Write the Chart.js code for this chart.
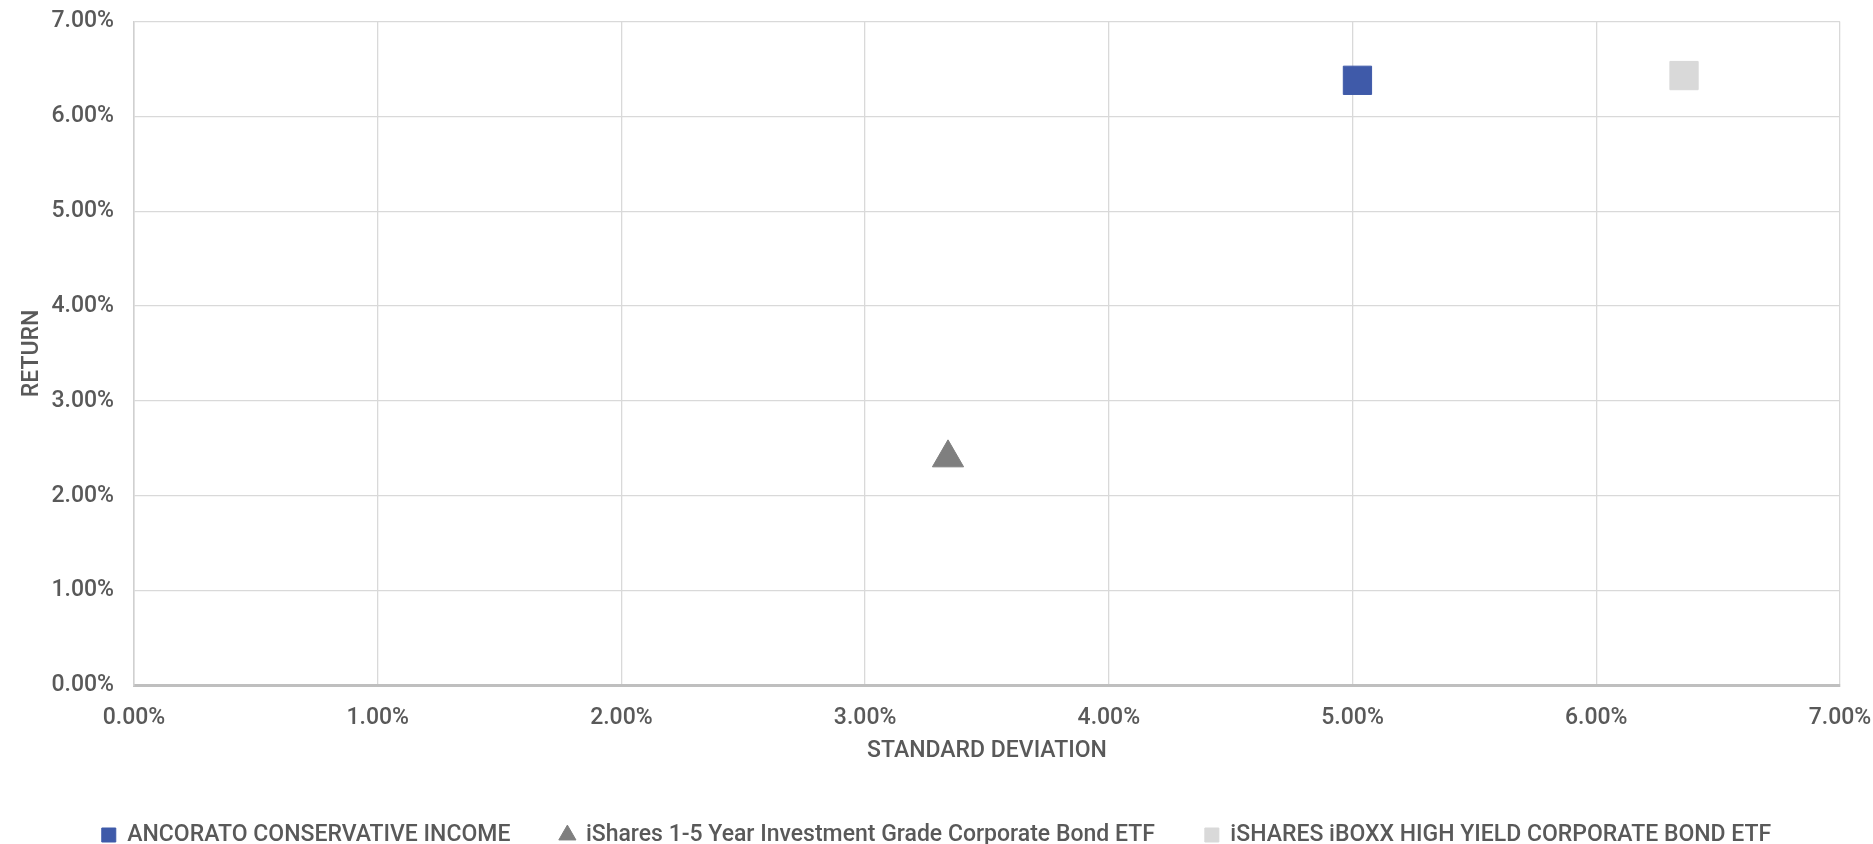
<!DOCTYPE html>
<html>
<head>
<meta charset="utf-8">
<script src="https://cdn.jsdelivr.net/npm/chart.js@4.4.1/dist/chart.umd.min.js"></script>
<style>
  html, body { margin: 0; padding: 0; background: #ffffff; }
  #wrap { position: relative; width: 1873px; height: 844px; }
</style>
</head>
<body>
<div id="wrap"><canvas id="c"></canvas></div>
<script>
// Series names
const seriesNames = [
  'ANCORATO CONSERVATIVE INCOME',
  'iShares 1-5 Year Investment Grade Corporate Bond ETF',
  'iSHARES iBOXX HIGH YIELD CORPORATE BOND ETF'
];
// Standard deviation (%) per series
const stdDev = [5.02, 3.34, 6.36];
// Return (%) per series
const returns = [6.38, 2.40, 6.43];
// Axis ticks (%)
const axisMin = 0;
const axisMax = 7;
const axisStep = 1;

const colors = ['#3F5AA9', '#7F7F7F', '#D9D9D9'];
const styles = ['rect', 'triangle', 'rect'];
const radii = [20, 18, 20];

const fontFamily = 'Roboto, "Liberation Sans", sans-serif';
const textColor = '#595959';
const fontSize = 23;
const fmt = v => Number(v).toFixed(2) + '%';

const datasets = seriesNames.map((name, i) => ({
  label: name,
  data: [{ x: stdDev[i], y: returns[i] }],
  backgroundColor: colors[i],
  borderColor: colors[i],
  borderWidth: 1,
  pointStyle: styles[i],
  pointRadius: radii[i],
  pointHoverRadius: radii[i]
}));

const legendPad = 50;
const legendH = fontSize + legendPad + 10;
const bottomPad = -12.5;
const plotTop = 21.5;
const plotBottom = 685.5;
const plotRightGap = 33;
const xAxisH = 844 - bottomPad - legendH - plotBottom;

new Chart(document.getElementById('c'), {
  type: 'scatter',
  data: { datasets },
  options: {
    responsive: true,
    maintainAspectRatio: false,
    animation: false,
    layout: { autoPadding: false, padding: { top: 0, right: 0, bottom: bottomPad, left: 0 } },
    plugins: {
      tooltip: { enabled: false },
      legend: {
        position: 'bottom',
        labels: {
          usePointStyle: true,
          boxWidth: 14,
          boxHeight: 14,
          padding: legendPad,
          color: textColor,
          font: { family: fontFamily, size: fontSize, weight: '500' }
        }
      }
    },
    scales: {
      x: {
        type: 'linear',
        min: axisMin,
        max: axisMax,
        ticks: { stepSize: axisStep, callback: fmt, color: textColor, padding: 19,
                 font: { family: fontFamily, size: fontSize, weight: '500' }, maxRotation: 0 },
        grid: { color: '#d9d9d9', lineWidth: 1.3, drawTicks: false },
        border: { color: '#bfbfbf', width: 3 },
        title: { display: true, text: 'STANDARD DEVIATION', color: textColor,
                 font: { family: fontFamily, size: fontSize, weight: '500' }, padding: { top: 0, bottom: 8.6 } },
        afterFit: s => { s.height = xAxisH; s.paddingLeft = 0; s.paddingRight = plotRightGap; }
      },
      y: {
        type: 'linear',
        min: axisMin,
        max: axisMax,
        ticks: { stepSize: axisStep, callback: fmt, color: textColor, padding: 20,
                 font: { family: fontFamily, size: fontSize, weight: '500' } },
        grid: { color: '#d9d9d9', lineWidth: 1.3, drawTicks: false },
        border: { color: '#d0d0d0', width: 1.5 },
        title: { display: true, text: 'RETURN', color: textColor,
                 font: { family: fontFamily, size: fontSize, weight: '500' }, padding: { top: 18, bottom: 0 } },
        afterFit: s => { s.width = 134; s.paddingTop = plotTop; s.paddingBottom = 0; }
      }
    }
  }
});
</script>
</body>
</html>
